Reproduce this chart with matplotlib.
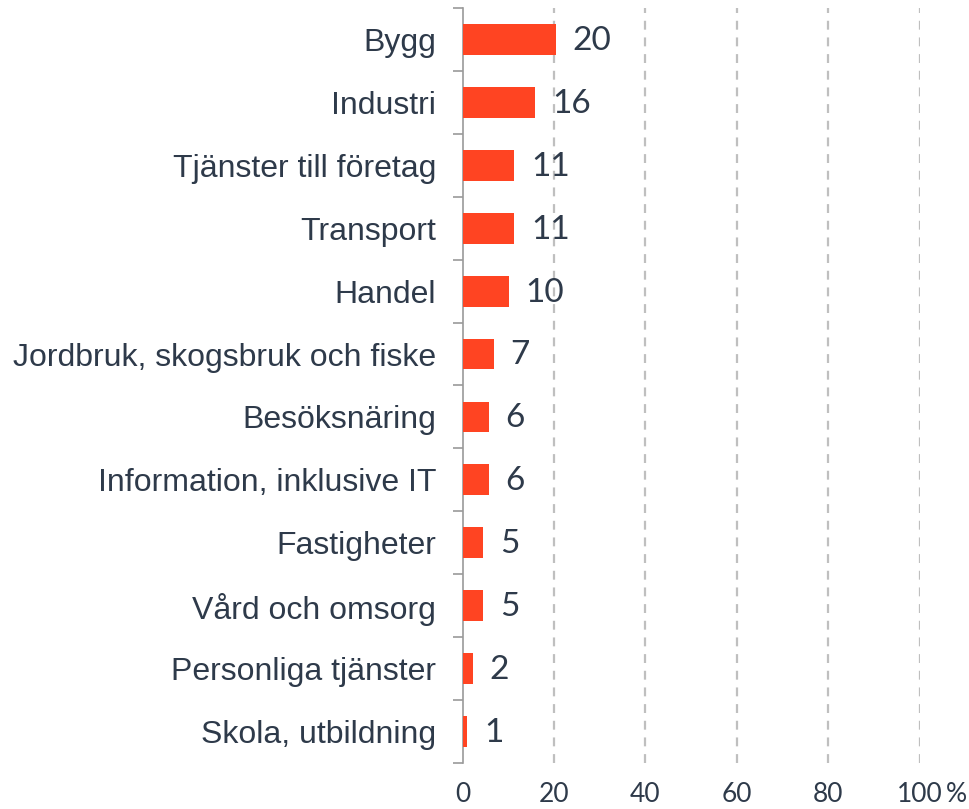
import numpy as np
import matplotlib.pyplot as plt

# Data
kategorier = ["Bygg", "Industri", "Tjänster till företag", "Transport", "Handel",
              "Jordbruk, skogsbruk och fiske", "Besöksnäring", "Information, inklusive IT",
              "Fastigheter", "Vård och omsorg", "Personliga tjänster", "Skola, utbildning"]
andel = [20.4, 15.9, 11.3, 11.3, 10.1, 6.8, 5.7, 5.7, 4.5, 4.5, 2.2, 1.0]
etiketter = ["20", "16", "11", "11", "10", "7", "6", "6", "5", "5", "2", "1"]
xticks = [0, 20, 40, 60, 80, 100]

textfarg = "#2E3A4A"
stapelfarg = "#FF4422"

fig = plt.figure(figsize=(9.7, 8.09), dpi=100)
ax = fig.add_axes([0.477, 0.057, 0.471, 0.933])

y = np.arange(len(kategorier))
ax.barh(y, andel, height=0.49, color=stapelfarg, zorder=3)
ax.set_ylim(len(kategorier) - 0.5, -0.5)
ax.set_xlim(0, 100)

# Värdeetiketter
for yi, v, t in zip(y, andel, etiketter):
    ax.annotate(t, (v, yi), xytext=(12, -1), textcoords="offset points",
                ha="left", va="center", fontsize=24, color=textfarg, family="Lato")

# Axlar
for s in ["top", "right", "bottom"]:
    ax.spines[s].set_visible(False)
ax.spines["left"].set_color("#9A9A9A")
ax.spines["left"].set_linewidth(1.2)

ax.set_yticks(y)
ax.set_yticklabels(kategorier, fontsize=23, color=textfarg, family="Liberation Sans")
ax.tick_params(axis="y", which="major", length=0, pad=19)
ax.set_yticks(np.arange(-0.5, len(kategorier)), minor=True)
ax.tick_params(axis="y", which="minor", length=7, color="#9A9A9A", width=1.2)

ax.set_xticks(xticks)
ax.set_xticklabels([str(v) for v in xticks], fontsize=19, color=textfarg, family="Lato")
ax.tick_params(axis="x", length=0, pad=14)
ax.annotate("%", xy=(100, 0), xycoords=("data", "axes fraction"), xytext=(19, -14),
            textcoords="offset points", fontsize=19, color=textfarg, family="Lato",
            ha="left", va="top")

for v in xticks[1:]:
    ax.axvline(v, color="#BFBFBF", linewidth=1.6, linestyle=(0, (4, 3.5)), zorder=1)

fig.savefig("out.png", dpi=100)
